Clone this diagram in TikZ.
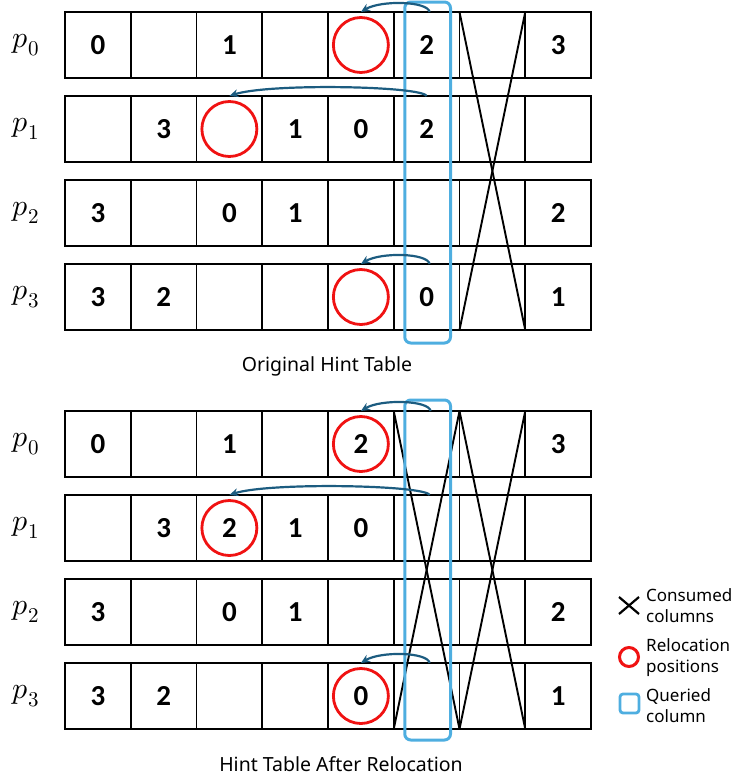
\documentclass[tikz,border=0pt]{standalone}
\usepackage{fontspec}
\usepackage{unicode-math}
\newfontfamily\sansf{Noto Sans}
\newfontfamily\digitf{Carlito}
\usetikzlibrary{calc,arrows.meta}
\definecolor{arrowc}{RGB}{28,92,128}
\definecolor{qblue}{RGB}{78,174,224}
\definecolor{relred}{RGB}{240,18,18}
\begin{document}
\begin{tikzpicture}[x=1pt,y=-1pt,
  cell/.style={draw, line width=1.8pt, minimum width=65.75pt, minimum height=66pt, inner sep=0pt, outer sep=0pt, font=\digitf\fontsize{29}{32}\selectfont\bfseries},
  relc/.style={draw=relred, line width=2.8pt, circle, minimum size=55pt, inner sep=0pt},
  qbox/.style={draw=qblue, line width=3pt, rounded corners=6pt},
  xline/.style={line width=1.9pt, black},
  arr/.style={draw=arrowc, line width=2.2pt, -{Stealth[length=9pt,width=8pt]}},
  plab/.style={font=\fontsize{30}{34}\selectfont},
  captext/.style={font=\sansf\fontsize{19.5}{23}\selectfont},
  leg/.style={font=\sansf\fontsize{17}{21}\selectfont, align=left, anchor=west, inner sep=0pt}
]
\useasboundingbox (0,0) rectangle (736,780);

% top table
\foreach \r/\row in {0/{0,{},1,{},{},2,{},3},1/{{},3,{},1,0,2,{},{}},2/{3,{},0,1,{},{},{},2},3/{3,2,{},{},{},0,{},1}}{
  \foreach \v [count=\c from 0] in \row {
    \node[cell] (t-\r-\c) at ({97.875+65.75*\c},{45+84*\r}) {\v};
  }
  \node[plab] (lt-\r) at ($(t-\r-0.west)+(-39,0)$) {$p_{\r}$};
}
% bottom table
\foreach \r/\row in {0/{0,{},1,{},2,{},{},3},1/{{},3,2,1,0,{},{},{}},2/{3,{},0,1,{},{},{},2},3/{3,2,{},{},0,{},{},1}}{
  \foreach \v [count=\c from 0] in \row {
    \node[cell] (b-\r-\c) at ({97.875+65.75*\c},{444+84*\r}) {\v};
  }
  \node[plab] (lb-\r) at ($(b-\r-0.west)+(-39,0)$) {$p_{\r}$};
}

% consumed columns (crosses)
\draw[xline] (t-0-6.north west) -- (t-3-6.south east);
\draw[xline] (t-0-6.north east) -- (t-3-6.south west);
\draw[xline] (b-0-5.north west) -- (b-3-5.south east);
\draw[xline] (b-0-5.north east) -- (b-3-5.south west);
\draw[xline] (b-0-6.north west) -- (b-3-6.south east);
\draw[xline] (b-0-6.north east) -- (b-3-6.south west);

% relocation circles
\node[relc] (ct-0) at (t-0-4) {};
\node[relc] (ct-1) at (t-1-2) {};
\node[relc] (ct-3) at (t-3-4) {};
\node[relc] (cb-0) at (b-0-4) {};
\node[relc] (cb-1) at (b-1-2) {};
\node[relc] (cb-3) at (b-3-4) {};

% queried column
\draw[qbox] ($(t-0-5.north west)+(11,-10)$) rectangle ($(t-3-5.south east)+(-9,13)$);
\draw[qbox] ($(b-0-5.north west)+(11,-11)$) rectangle ($(b-3-5.south east)+(-9,11)$);

% arrows
\draw[arr] ($(t-0-5.north)+(3,0)$) .. controls +(-2,-11) and +(20,-12) .. (t-0-4.north);
\draw[arr] (t-1-5.north) .. controls +(-5,-10) and +(40,-13) .. (t-1-2.north);
\draw[arr] ($(t-3-5.north)+(3,0)$) .. controls +(-2,-11) and +(20,-12) .. (t-3-4.north);
\draw[arr] ($(b-0-5.north)+(4,0)$) .. controls +(-2,-11) and +(20,-12) .. (b-0-4.north);
\draw[arr] ($(b-1-5.north)+(3,0)$) .. controls +(-5,-10) and +(40,-13) .. (b-1-2.north);
\draw[arr] ($(b-3-5.north)+(3,0)$) .. controls +(-2,-11) and +(20,-12) .. (b-3-4.north);

% captions
\node[captext] (cap1) at (327,366) {Original Hint Table};
\node[captext] (cap2) at (341,764) {Hint Table After Relocation};

% legend
\draw[line width=2.2pt] (619,597) -- (639,614);
\draw[line width=2.2pt] (639,597) -- (619,614);
\node[leg] (lg1) at (646,606) {Consumed\\columns};
\draw[draw=relred, line width=3pt] (629,657) circle (9.5);
\node[leg] (lg2) at (646,658) {Relocation\\positions};
\draw[draw=qblue, line width=2.8pt, rounded corners=3pt] (620,694) rectangle (639,713);
\node[leg] (lg3) at (646,706) {Queried\\column};
\end{tikzpicture}
\end{document}
